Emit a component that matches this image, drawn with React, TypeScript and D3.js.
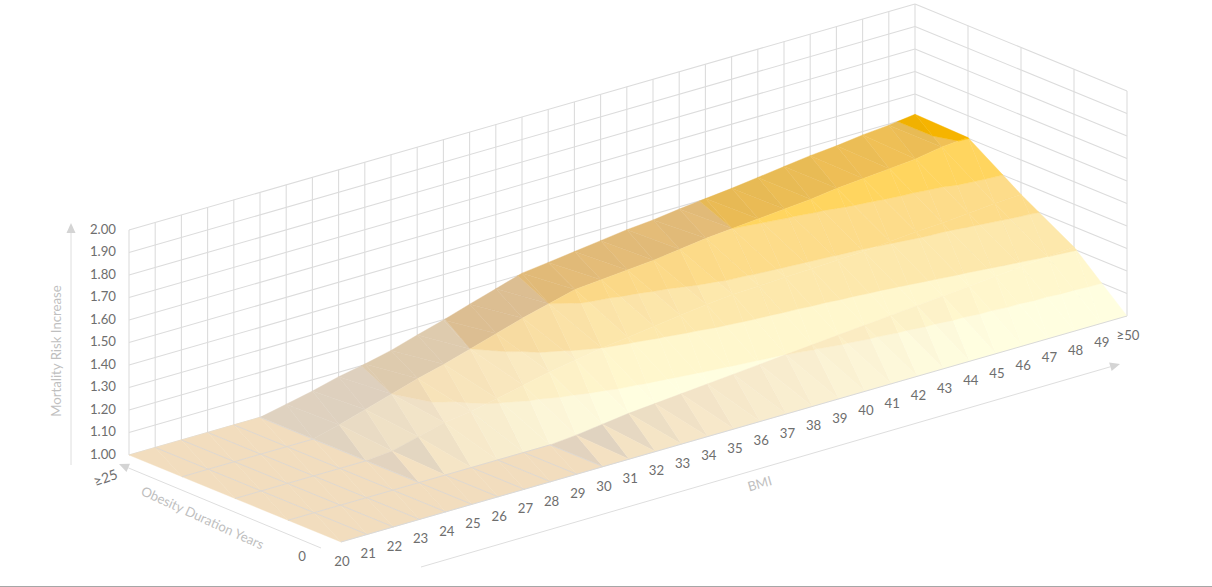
import React from "react";
import * as d3 from "d3";

// Mortality risk increase by BMI (columns) and years of obesity (rows)
const bmiLabels = ["20","21","22","23","24","25","26","27","28","29","30","31","32","33","34","35","36","37","38","39","40","41","42","43","44","45","46","47","48","49","≥50"];
const durationEnds = ["0", "≥25"];
const riskTicks = [1.0, 1.1, 1.2, 1.3, 1.4, 1.5, 1.6, 1.7, 1.8, 1.9, 2.0];

const riskRow0 = [1,1,1,1,1,1,1,1,1,1,1,1,1,1,1,1,1,1,1,1,1,1,1,1,1,1,1,1,1,1,1];
const riskRow1 = [1,1,1,1,1,1,1,1,1,1,1,1.01,1.025,1.04,1.05,1.06,1.07,1.08,1.09,1.10,1.11,1.12,1.13,1.14,1.15,1.16,1.17,1.18,1.19,1.20,1.21];
const riskRow2 = [1,1,1,1,1,1,1.01,1.04,1.07,1.085,1.11,1.135,1.16,1.18,1.20,1.215,1.23,1.245,1.26,1.27,1.275,1.28,1.285,1.29,1.295,1.305,1.315,1.32,1.33,1.34,1.347];
const riskRow3 = [1,1,1,1,1,1,1.03,1.065,1.10,1.135,1.165,1.20,1.235,1.27,1.30,1.33,1.34,1.35,1.36,1.375,1.39,1.40,1.41,1.42,1.43,1.445,1.455,1.465,1.475,1.495,1.503];
const riskRow4 = [1,1,1,1,1,1,1.025,1.05,1.08,1.103,1.13,1.165,1.198,1.235,1.27,1.306,1.32,1.335,1.35,1.365,1.375,1.39,1.403,1.415,1.43,1.445,1.46,1.47,1.485,1.495,1.51];
const riskRows = [riskRow0, riskRow1, riskRow2, riskRow3, riskRow4];

// Base colour per 0.1 band of risk
const bandColors: [number, number, number][] = [
  [255, 254, 224], [255, 247, 205], [253, 232, 172], [253, 220, 138], [255, 213, 95], [255, 192, 0],
];
// How strongly each band darkens on shaded facets
const bandShadow = [1, 1, 1, 0.85, 0.72, 0.45];
// Slope at which facets in each duration strip reach full brightness
const stripSlope = [0.18, 0.12, 0.11, 0.12];
const facetBonus = [0.12, 0.14, 0.14, 0.03];

const GRID = "#dcdcdc";
const TICK_TEXT = "#6e6e6e";
const TITLE_TEXT = "#bfbfbf";
const FONT = "Lato, 'Open Sans', sans-serif";

// Oblique parallel projection of (bmi index, duration row, risk)
const xByBmi = d3.scaleLinear([0, 30], [0, 786]);
const yByBmi = d3.scaleLinear([0, 30], [0, -226]);
const xByRow = d3.scaleLinear([0, 4], [0, -212]);
const yByRow = d3.scaleLinear([0, 4], [0, -87]);
const lift = d3.scaleLinear([1, 2], [0, -225]);
const ORIGIN: [number, number] = [341, 542];
// Light falls off toward the low-BMI end of the surface
const lightAlongBmi = d3.scaleLinear([6, 22], [0.5, 1]).clamp(true);

type V = [number, number, number];
const project = ([k, r, z]: V): [number, number] => [
  ORIGIN[0] + xByBmi(k) + xByRow(r),
  ORIGIN[1] + yByBmi(k) + yByRow(r) + lift(z),
];
const seg = (a: V, b: V) => {
  const [x1, y1] = project(a);
  const [x2, y2] = project(b);
  return { x1, y1, x2, y2 };
};
const pathOf = d3.line<V>((v) => project(v)[0], (v) => project(v)[1]);

// Keep the part of a polygon on one side of a risk level
function clipZ(poly: V[], level: number, keepAbove: boolean): V[] {
  const out: V[] = [];
  const inside = (v: V) => (keepAbove ? v[2] >= level : v[2] <= level);
  poly.forEach((a, i) => {
    const b = poly[(i + 1) % poly.length];
    if (inside(a)) out.push(a);
    if (inside(a) !== inside(b)) {
      const t = (level - a[2]) / (b[2] - a[2]);
      out.push([a[0] + t * (b[0] - a[0]), a[1] + t * (b[1] - a[1]), level]);
    }
  });
  return out;
}

// Facet shading from the triangle's slope along duration and along BMI
function shade(band: number, strip: number, k: number, gr: number, gk: number, lowerFacet: boolean) {
  const base = bandColors[band];
  const flat = gr === 0 && gk === 0;
  const bonus = lowerFacet && !flat ? facetBonus[strip] : 0;
  const raw = ((gr + 0.4 * gk) / stripSlope[strip] + bonus) * lightAlongBmi(k);
  const lit = Math.max(0, Math.min(1, raw));
  const s = (1 - lit) * bandShadow[band];
  const m = Math.min(1, gk / 0.012) * Math.max(0, Math.min(1, (1 - lit - 0.65) / 0.3));
  const fr = 1 - s * (0.05 + 0.08 * m);
  const fg = 1 - s * (0.13 + 0.05 * m);
  const fb = 1 - s * 0.15;
  return d3.rgb(base[0] * fr, base[1] * fg, base[2] * fb).formatHex();
}

function surfacePieces() {
  const pieces: { d: string; fill: string }[] = [];
  for (let r = 3; r >= 0; r--) {
    for (let k = 29; k >= 0; k--) {
      const z = (rr: number, kk: number) => riskRows[rr][kk];
      const a: V = [k, r, z(r, k)];
      const b: V = [k + 1, r, z(r, k + 1)];
      const c: V = [k + 1, r + 1, z(r + 1, k + 1)];
      const e: V = [k, r + 1, z(r + 1, k)];
      const tris: { pts: V[]; gr: number; gk: number; lower: boolean }[] = [
        { pts: [a, e, c], gr: e[2] - a[2], gk: c[2] - e[2], lower: false },
        { pts: [a, b, c], gr: c[2] - b[2], gk: b[2] - a[2], lower: true },
      ];
      tris.forEach(({ pts, gr, gk, lower }) => {
        bandColors.forEach((_, band) => {
          const lo = 1 + band * 0.1;
          let part = clipZ(pts, lo, true);
          if (part.length) part = clipZ(part, lo + 0.1, false);
          if (part.length < 3) return;
          if (band > 0 && part.every((v) => v[2] === lo)) return;
          pieces.push({ d: pathOf(part) + "Z", fill: shade(band, r, k, gr, gk, lower) });
        });
      });
    }
  }
  return pieces;
}

// Floor grid shows only where the surface lies on the floor
function floorLines() {
  const lines: { x1: number; y1: number; x2: number; y2: number }[] = [];
  for (let k = 1; k <= 30; k++) {
    for (let r = 0; r < 4; r++) {
      if (riskRows[r][k] === 1 && riskRows[r + 1][k] === 1) lines.push(seg([k, r, 1], [k, r + 1, 1]));
    }
  }
  for (let r = 1; r <= 3; r++) {
    for (let k = 0; k < 30; k++) {
      if (riskRows[r][k] === 1 && riskRows[r][k + 1] === 1) lines.push(seg([k, r, 1], [k + 1, r, 1]));
    }
  }
  return lines;
}

function Arrow({ x1, y1, x2, y2 }: { x1: number; y1: number; x2: number; y2: number }) {
  const a = Math.atan2(y2 - y1, x2 - x1);
  const len = 10;
  const hw = 4.5;
  const bx = x2 - len * Math.cos(a);
  const by = y2 - len * Math.sin(a);
  const pts = [
    [x2, y2],
    [bx - hw * Math.sin(a), by + hw * Math.cos(a)],
    [bx + hw * Math.sin(a), by - hw * Math.cos(a)],
  ].join(" ");
  return (
    <g>
      <line x1={x1} y1={y1} x2={bx} y2={by} stroke="#dedede" strokeWidth={1} />
      <polygon points={pts} fill="#d4d4d4" />
    </g>
  );
}

export default function App() {
  const pieces = surfacePieces();
  const floor = floorLines();
  const last = bmiLabels.length - 1;
  return (
    <svg width={1212} height={587} style={{ position: "absolute", left: 0, top: 0, background: "#fff" }} fontFamily={FONT}>
      {/* back walls */}
      <g stroke={GRID} strokeWidth={1.1} fill="none">
        {riskTicks.map((t) => (
          <g key={t}>
            <line {...seg([0, 4, t], [last, 4, t])} />
            <line {...seg([last, 4, t], [last, 0, t])} />
          </g>
        ))}
        {bmiLabels.map((_, k) => (
          <line key={k} {...seg([k, 4, 1], [k, 4, 2])} />
        ))}
        {d3.range(0, 4).map((r) => (
          <line key={r} {...seg([last, r, 1], [last, r, 2])} />
        ))}
      </g>

      {/* surface facets, far cells first */}
      <g>
        {pieces.map((p, i) => (
          <path key={i} d={p.d} fill={p.fill} stroke={p.fill} strokeWidth={0.4} />
        ))}
      </g>
      <g stroke="#dfd8d0" strokeWidth={1}>
        {floor.map((l, i) => (
          <line key={i} {...l} />
        ))}
      </g>
      <line {...seg([0, 0, 1], [last, 0, 1])} stroke="#d9d9d9" strokeWidth={1} />

      {/* risk axis */}
      <g fill={TICK_TEXT} fontSize={13.2} textAnchor="end">
        {riskTicks.map((t) => (
          <text key={t} x={116} y={project([0, 4, t])[1] + 0.5} dominantBaseline="middle">
            {d3.format(".2f")(t)}
          </text>
        ))}
      </g>
      <Arrow x1={71} y1={465} x2={71} y2={223} />
      <text transform="translate(58,351) rotate(-90)" textAnchor="middle" dominantBaseline="middle" fontSize={13.2} fill={TITLE_TEXT}>
        Mortality Risk Increase
      </text>

      {/* duration axis */}
      <Arrow x1={321} y1={548} x2={119} y2={464} />
      <text transform="translate(202,519) rotate(24.5)" textAnchor="middle" dominantBaseline="middle" fontSize={13.2} fill={TITLE_TEXT}>
        Obesity Duration Years
      </text>
      <text transform="translate(106,479) rotate(-20)" textAnchor="middle" dominantBaseline="middle" fontSize={14} fill={TICK_TEXT}>
        {durationEnds[1]}
      </text>
      <text x={302} y={558} textAnchor="middle" dominantBaseline="middle" fontSize={13.2} fill={TICK_TEXT}>
        {durationEnds[0]}
      </text>

      {/* BMI axis */}
      <g fill={TICK_TEXT} fontSize={13.2} textAnchor="middle">
        {bmiLabels.map((b, k) => {
          const [x, y] = project([k, 0, 1]);
          return (
            <text key={b} x={x + 1} y={y + 20.5} dominantBaseline="middle">
              {b}
            </text>
          );
        })}
      </g>
      <Arrow x1={421} y1={567} x2={1120} y2={364} />
      <text transform="translate(760,485) rotate(-16)" textAnchor="middle" dominantBaseline="middle" fontSize={13.2} fill={TITLE_TEXT}>
        BMI
      </text>

      <line x1={0} y1={586.5} x2={1212} y2={586.5} stroke="#a6a6a6" strokeWidth={1} />
    </svg>
  );
}
